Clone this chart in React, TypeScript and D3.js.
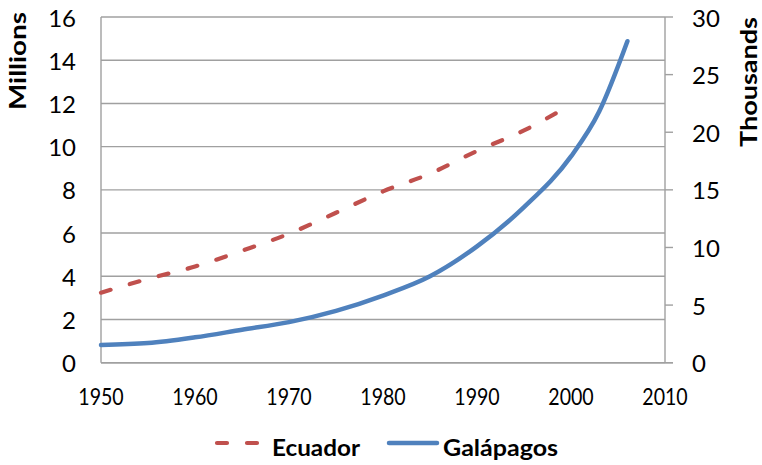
import React from "react";
import * as d3 from "d3";

const ecuadorYears = [1950, 1955, 1960, 1965, 1970, 1975, 1980, 1985, 1990, 1995, 2000];
const ecuadorMillions = [3.24, 3.88, 4.45, 5.18, 5.97, 6.94, 7.93, 8.75, 9.8, 10.75, 11.95];

const galapagosYears = [1950, 1955, 1960, 1965, 1970, 1975, 1980, 1985, 1990, 1995, 2000, 2003, 2006];
const galapagosThousands = [1.54, 1.7, 2.2, 2.86, 3.52, 4.5, 5.83, 7.5, 10.1, 13.5, 17.9, 21.8, 27.9];

const xTicks = [1950, 1960, 1970, 1980, 1990, 2000, 2010];
const leftTicks = [0, 2, 4, 6, 8, 10, 12, 14, 16];
const rightTicks = [0, 5, 10, 15, 20, 25, 30];

const W = 762;
const H = 465;
const L = 101;
const R = 665;
const T = 17;
const B = 362.7;

const RED = "#C0504D";
const BLUE = "#4F81BD";
const GRID = "#A0A0A0";
const FONT = "Lato, 'Open Sans', sans-serif";

export default function App() {
  const x = d3.scaleLinear().domain([1950, 2010]).range([L, R]);
  const yL = d3.scaleLinear().domain([0, 16]).range([B, T]);
  const yR = d3.scaleLinear().domain([0, 30]).range([B, T]);

  const ecuadorData = ecuadorYears.map((yr, i) => [yr, ecuadorMillions[i]] as [number, number]);
  const galData = galapagosYears.map((yr, i) => [yr, galapagosThousands[i]] as [number, number]);

  const ecuadorLine = d3
    .line<[number, number]>()
    .x((d) => x(d[0]))
    .y((d) => yL(d[1]))
    .curve(d3.curveMonotoneX)(ecuadorData) || "";
  const galLine = d3
    .line<[number, number]>()
    .x((d) => x(d[0]))
    .y((d) => yR(d[1]))
    .curve(d3.curveMonotoneX)(galData) || "";

  return (
    <svg
      width={W}
      height={H}
      style={{ position: "absolute", left: 0, top: 0, background: "#fff" }}
      fontFamily={FONT}
    >
      <rect x={0} y={0} width={W} height={H} fill="#fff" />
      {/* gridlines */}
      {leftTicks.map((t) => (
        <line key={"g" + t} x1={L} x2={R} y1={yL(t)} y2={yL(t)} stroke={GRID} strokeWidth={1.4} />
      ))}
      {/* axis lines */}
      <line x1={L} x2={L} y1={T} y2={B} stroke={GRID} strokeWidth={1.4} />
      <line x1={R} x2={R} y1={T} y2={B} stroke={GRID} strokeWidth={1.4} />
      <line x1={L} x2={R + 8} y1={B} y2={B} stroke={GRID} strokeWidth={1.4} />
      {rightTicks.map((t) => (
        <line key={"rt" + t} x1={R} x2={R + 8} y1={yR(t)} y2={yR(t)} stroke={GRID} strokeWidth={1.4} />
      ))}
      {/* left labels */}
      {leftTicks.map((t) => (
        <text key={"ll" + t} x={76} y={yL(t) + 9.5} textAnchor="end" fontSize={24} fill="#000">
          {t}
        </text>
      ))}
      {/* right labels */}
      {rightTicks.map((t) => (
        <text key={"rl" + t} x={692} y={yR(t) + 9.5} textAnchor="start" fontSize={24} fill="#000">
          {t}
        </text>
      ))}
      {/* x labels */}
      {xTicks.map((t) => (
        <text
          key={"xl" + t}
          transform={`translate(${x(t)},405) scale(1,1.2)`}
          textAnchor="middle"
          fontSize={19.6}
          fill="#000"
        >
          {t}
        </text>
      ))}
      {/* axis titles */}
      <text
        transform={`translate(26,61) rotate(-90)`}
        textAnchor="middle"
        fontSize={23}
        fontWeight="bold"
        textLength={98}
        lengthAdjust="spacingAndGlyphs"
        fill="#000"
      >
        Millions
      </text>
      <text
        transform={`translate(757,82) rotate(-90)`}
        textAnchor="middle"
        fontSize={22}
        fontWeight="bold"
        textLength={130}
        lengthAdjust="spacingAndGlyphs"
        fill="#000"
      >
        Thousands
      </text>
      {/* series */}
      <path
        d={ecuadorLine}
        fill="none"
        stroke={RED}
        strokeWidth={4.2}
        strokeDasharray="10 20"
        strokeLinecap="round"
      />
      <path d={galLine} fill="none" stroke={BLUE} strokeWidth={4.5} strokeLinecap="round" />
      {/* legend */}
      <line x1={217} x2={260} y1={443} y2={443} stroke={RED} strokeWidth={4.2} strokeDasharray="10 20" strokeLinecap="round" />
      <text x={272} y={456} fontSize={22.5} fontWeight="bold" textLength={88} lengthAdjust="spacingAndGlyphs" fill="#000">
        Ecuador
      </text>
      <line x1={389} x2={437} y1={443} y2={443} stroke={BLUE} strokeWidth={4.5} strokeLinecap="round" />
      <text x={443} y={456} fontSize={22.5} fontWeight="bold" textLength={115} lengthAdjust="spacingAndGlyphs" fill="#000">
        Galápagos
      </text>
    </svg>
  );
}
